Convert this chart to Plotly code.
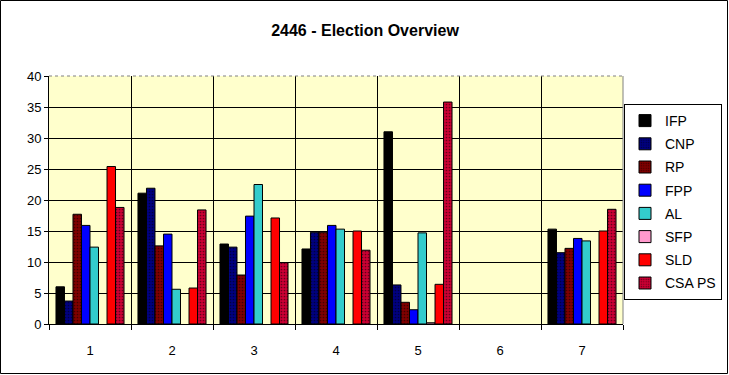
import plotly.graph_objects as go

categories = [1, 2, 3, 4, 5, 6, 7]
category_labels = ["1", "2", "3", "4", "5", "6", "7"]

series_names = ["IFP", "CNP", "RP", "FPP", "AL", "SFP", "SLD", "CSA PS"]
IFP = [6.0, 21.1, 12.9, 12.1, 31.0, None, 15.3]
CNP = [3.7, 21.9, 12.4, 14.8, 6.3, None, 11.5]
RP = [17.7, 12.6, 7.9, 14.8, 3.5, None, 12.2]
FPP = [15.9, 14.5, 17.4, 15.9, 2.3, None, 13.8]
AL = [12.4, 5.6, 22.5, 15.3, 14.7, None, 13.4]
SFP = [None, None, None, None, 0.2, None, None]
SLD = [25.4, 5.8, 17.1, 15.0, 6.4, None, 15.0]
CSA_PS = [18.8, 18.4, 9.9, 11.9, 35.8, None, 18.5]
series_values = [IFP, CNP, RP, FPP, AL, SFP, SLD, CSA_PS]

colors = ["#000000", "#000080", "#800000", "#0000FF", "#33CCCC", "#FF99CC", "#FF0000", "#CC0033"]
patterned = [False, True, True, False, False, False, False, True]

y_ticks = [0, 5, 10, 15, 20, 25, 30, 35, 40]

FONT = "Liberation Sans, Arial, sans-serif"

fig = go.Figure()
for name, vals, col, pat in zip(series_names, series_values, colors, patterned):
    marker = dict(color=col, line=dict(color="#000000", width=1))
    if pat:
        marker["pattern"] = dict(shape=".", fgcolor="#000000", size=3, solidity=0.25)
    fig.add_trace(go.Bar(name=name, x=categories, y=vals, marker=marker, legendgroup=name))

W, H = 729, 375
L, R, T, B = 49, 106, 76, 51
pw = W - L - R
ph = H - T - B

fig.update_layout(
    width=W, height=H,
    margin=dict(l=L, r=R, t=T, b=B, autoexpand=False),
    paper_bgcolor="#FFFFFF",
    plot_bgcolor="#FFFFCC",
    barmode="group",
    bargap=0.17,
    bargroupgap=0,
    font=dict(family=FONT, size=13, color="#000000"),
    title=dict(text="<b>2446 - Election Overview</b>", x=(365 - L) / pw, xref="paper",
               xanchor="center", y=1 - 30 / H, yanchor="middle",
               font=dict(family=FONT, size=16, color="#000000")),
    showlegend=True,
    legend=dict(
        x=(722 - L) / pw, xanchor="right",
        y=1 - (104 - T) / ph, yanchor="top",
        bgcolor="#FFFFFF", bordercolor="#000000", borderwidth=1,
        font=dict(family=FONT, size=14, color="#000000"),
        tracegroupgap=2, itemwidth=30,
    ),
    xaxis=dict(
        type="linear",
        range=[0.5, 7.5],
        tickmode="array", tickvals=categories, ticktext=category_labels,
        showgrid=False, ticks="", showline=True, linecolor="#000000", linewidth=1,
        ticklabelstandoff=14,
        minor=dict(tick0=0.5, dtick=1, showgrid=True, gridcolor="#000000", gridwidth=1,
                   ticks="outside", ticklen=5, tickcolor="#000000"),
        zeroline=False, mirror=False,
    ),
    yaxis=dict(
        range=[0, 40],
        tickmode="array", tickvals=y_ticks,
        showgrid=True, gridcolor="#000000", gridwidth=1,
        ticks="outside", ticklen=4, tickcolor="#000000",
        showline=True, linecolor="#000000", linewidth=1,
        zeroline=False,
    ),
    shapes=[
        dict(type="rect", xref="paper", yref="paper",
             x0=(0.5 - L) / pw, x1=(W - 1.5 - L) / pw,
             y0=1 - (H - 1.5 - T) / ph, y1=1 - (0.5 - T) / ph,
             line=dict(color="#000000", width=1), fillcolor="rgba(0,0,0,0)", layer="below"),
        dict(type="line", xref="paper", yref="paper", x0=0, x1=1, y0=1, y1=1,
             line=dict(color="#808080", width=1, dash="dot")),
        dict(type="line", xref="paper", yref="paper", x0=1, x1=1, y0=0, y1=1,
             line=dict(color="#808080", width=1)),
    ],
)

fig.write_html("out.html", config={"displayModeBar": False},
               post_script="document.body.style.margin='0';document.body.style.overflow='hidden';")
